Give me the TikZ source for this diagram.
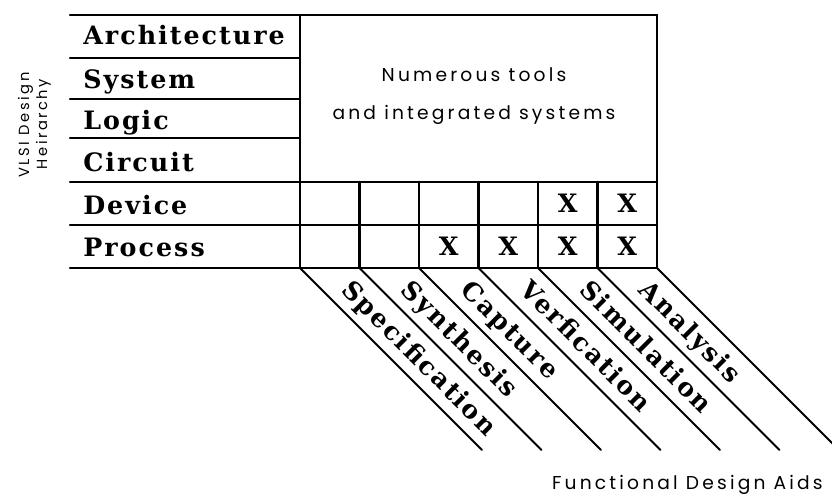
\documentclass[tikz,border=0pt]{standalone}
\usepackage{fontspec}
\newfontfamily\slabfont[LetterSpace=8]{DejaVu Serif}
\newfontfamily\geofont[LetterSpace=17]{Poppins}
\usetikzlibrary{positioning}

\begin{document}
\begin{tikzpicture}[x=0.75pt, y=-0.75pt,
  rule/.style={line width=1.8pt, line cap=round},
  diag/.style={line width=1.5pt, line cap=round},
  level/.style={
    anchor=base west, inner sep=0pt,
    font=\slabfont\bfseries\fontsize{19}{19}\selectfont,
  },
  aid/.style={
    anchor=base west, inner sep=0pt, rotate=-45,
    font=\slabfont\bfseries\fontsize{19}{19}\selectfont,
  },
  xmark/.style={
    inner sep=0pt,
    font=\slabfont\bfseries\fontsize{19}{19}\selectfont,
  },
  caption/.style={
    inner sep=0pt, align=center,
    font=\geofont\fontsize{14}{18}\selectfont,
  },
  sideline/.style={
    anchor=base, inner sep=0pt, rotate=90,
    font=\geofont\fontsize{11}{11}\selectfont,
  },
]
\useasboundingbox (0,0) rectangle (832,495);

% --- Hierarchy rows ---
\draw[rule] (70,15) -- (657,15);
\draw[rule] (70,58) -- (300,58);
\draw[rule] (70,99) -- (300,99);
\draw[rule] (70,138) -- (300,138);
\draw[rule] (70,182) -- (657,182);
\draw[rule] (70,225) -- (657,225);
\draw[rule] (70,268) -- (657,268);
\draw[rule] (300,15) -- (300,268);
\draw[rule] (657,15) -- (657,268);

\node[level] (arch) at (83,45) {Architecture};
\node[level] (sys) at (83,89) {System};
\node[level] (logic) at (83,130) {Logic};
\node[level] (circ) at (83,172) {Circuit};
\node[level] (dev) at (83,215) {Device};
\node[level] (proc) at (83,257) {Process};

\node[sideline] (vlsi) at (29,125) {VLSI Design};
\node[sideline] (heir) at (47,124) {Heirarchy};

% --- Tools box ---
\node[caption] (tools) at (474,96) {Numerous tools\\[10.5pt]and integrated systems};

% --- Aid columns ---
\draw[rule] (359.5,182) -- (359.5,268);
\draw[rule] (419,182) -- (419,268);
\draw[rule] (478.5,182) -- (478.5,268);
\draw[rule] (538,182) -- (538,268);
\draw[rule] (597.5,182) -- (597.5,268);

\node[xmark] (d5) at (567.75,203.5) {X};
\node[xmark] (d6) at (627.25,203.5) {X};
\node[xmark] (p3) at (448.75,246.5) {X};
\node[xmark] (p4) at (508.25,246.5) {X};
\node[xmark] (p5) at (567.75,246.5) {X};
\node[xmark] (p6) at (627.25,246.5) {X};

% --- Slanted strips ---
\draw[diag] (300,268) -- ++(182,182);
\draw[diag] (359.5,268) -- ++(182,182);
\draw[diag] (419,268) -- ++(182,182);
\draw[diag] (478.5,268) -- ++(182,182);
\draw[diag] (538,268) -- ++(182,182);
\draw[diag] (597.5,268) -- ++(182,182);
\draw[diag] (657,268) -- ++(182,182);

\node[aid] (spec) at (340.3,291.3) {Specification};
\node[aid] (synth) at (399.8,291.3) {Synthesis};
\node[aid] (capt) at (459.3,291.3) {Capture};
\node[aid] (verif) at (518.8,291.3) {Verfication};
\node[aid] (simu) at (578.3,291.3) {Simulation};
\node[aid] (anal) at (637.8,291.3) {Analysis};

\node[caption, anchor=east] (fda) at (823,485) {Functional Design Aids};

\end{tikzpicture}
\end{document}
